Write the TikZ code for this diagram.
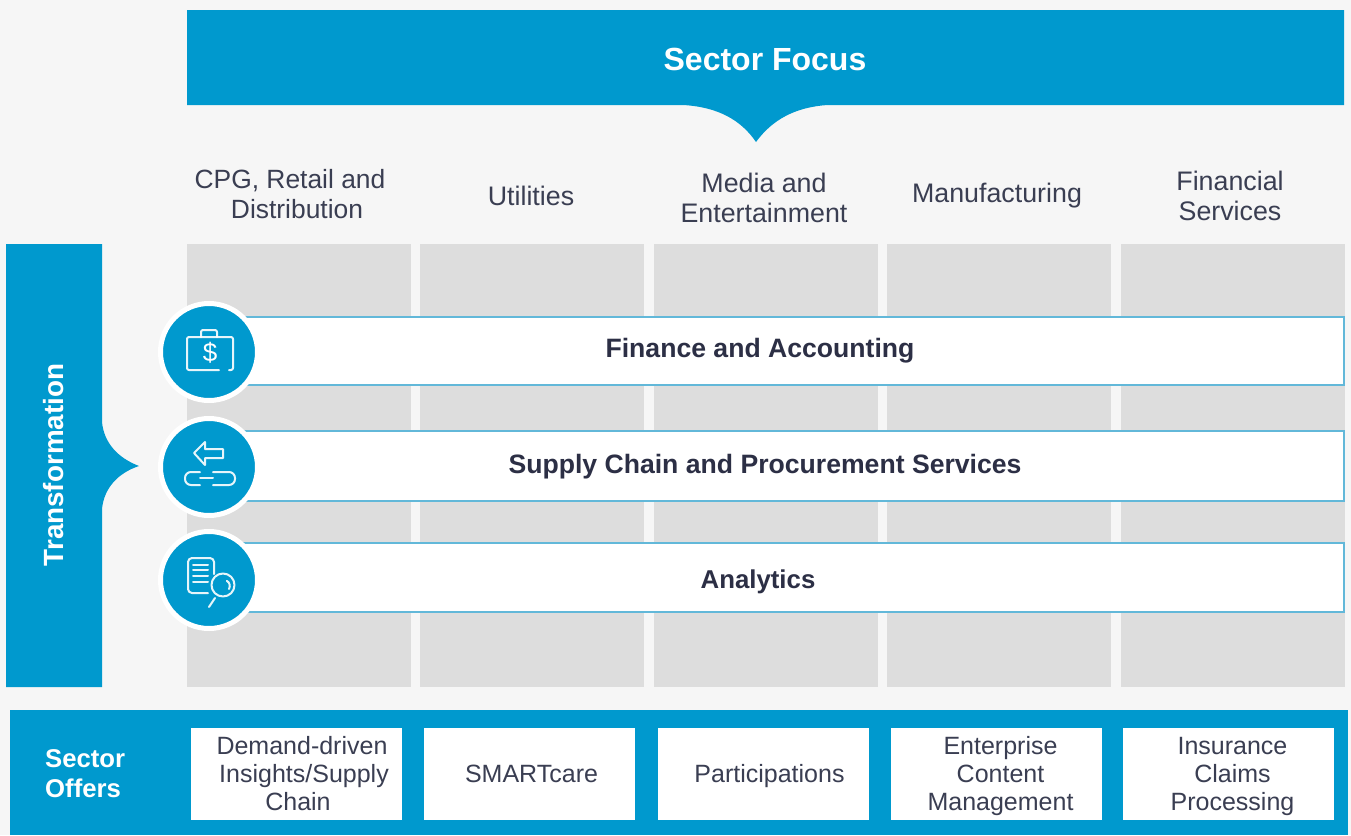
\documentclass[tikz,border=0pt]{standalone}
\usepackage{fontspec}
\setmainfont{Liberation Sans}
\definecolor{bgrey}{HTML}{F6F6F6}
\definecolor{bblue}{HTML}{0099CE}
\definecolor{cgrey}{HTML}{DDDDDD}
\definecolor{ldark}{HTML}{3A3E52}
\definecolor{tdark}{HTML}{2C2F45}
\definecolor{lblue}{HTML}{62B8D9}
\tikzset{
  secthead/.style={align=center, text=ldark, font=\fontsize{26.8}{30}\selectfont},
  offertext/.style={align=center, text=ldark, font=\fontsize{25}{28}\selectfont},
  barhead/.style={text=tdark, font=\bfseries\fontsize{26.6}{30}\selectfont},
  whitehead/.style={text=white, align=center, font=\bfseries},
  iconline/.style={draw=white, line width=2pt, line join=round, line cap=round, opacity=0.9}
}
\begin{document}
\begin{tikzpicture}[x=1pt, y=-1pt]

  \fill [bgrey] (0,0) rectangle (1351,835);
  \useasboundingbox (0,0) rectangle (1351,835);

  % top banner and left banner
  \fill [bblue] (187,10) -- (1344,10) -- (1344,105) -- (828,105)
    .. controls (795,107) and (772,120) .. (756,142)
    .. controls (741,120) and (718,107) .. (683,105) -- (187,105) -- cycle;
  \fill [bblue] (6,244) -- (102,244) -- (102,422)
    .. controls (104,443) and (118,458) .. (139,466)
    .. controls (118,473) and (104,488) .. (102,509) -- (102,687) -- (6,687) -- cycle;

  \draw (765,59) node[name=focus, whitehead, font=\bfseries\fontsize{32}{36}\selectfont] {Sector Focus};
  \draw (54,465) node[name=transf, whitehead, rotate=90, font=\bfseries\fontsize{27.8}{32}\selectfont] {Transformation};

  % sector columns
  \foreach \cx in {187,420,654,887,1121} {
    \fill [cgrey] (\cx,244) rectangle ++(224,443);
  }

  \draw (290,194) node[name=s1, secthead, font=\fontsize{26.4}{30}\selectfont] {CPG, Retail and\\\hspace*{14pt}Distribution};
  \draw (531,196) node[name=s2, secthead] {Utilities};
  \draw (764,198) node[name=s3, secthead] {Media and\\Entertainment};
  \draw (997,196) node[name=s4, secthead] {Manufacturing};
  \draw (1230,196) node[name=s5, secthead] {Financial\\Services};

  % horizontal bars
  \filldraw [fill=white, draw=lblue, line width=1.4pt] (240,317) rectangle (1344,385);
  \filldraw [fill=white, draw=lblue, line width=1.4pt] (240,431) rectangle (1344,501);
  \filldraw [fill=white, draw=lblue, line width=1.4pt] (240,543) rectangle (1344,612);

  \draw (760,351) node[name=b1, barhead] {Finance and Accounting};
  \draw (765,467) node[name=b2, barhead] {Supply Chain and Procurement Services};
  \draw (758,582) node[name=b3, barhead, font=\bfseries\fontsize{25.8}{30}\selectfont] {Analytics};

  % icon discs
  \filldraw [fill=bblue, draw=white, line width=5pt] (209,352) circle [radius=48.5];
  \filldraw [fill=bblue, draw=white, line width=5pt] (209,467) circle [radius=48.5];
  \filldraw [fill=bblue, draw=white, line width=5pt] (209,580) circle [radius=48.5];

  % case icon
  \draw [iconline, rounded corners=2pt] (219,370) -- (187,370) -- (187,337) -- (233,337) -- (233,370) -- (229,370);
  \draw [iconline, rounded corners=2pt] (201,337) -- (201,330) -- (217,330) -- (217,337);
  \draw (210,353) node[name=dollar, text=white, font=\fontsize{26}{28}\selectfont] {\$};

  % arrow and chain icon
  \draw [iconline] (194,453) -- (205,442) -- (205,449) -- (223,449) -- (223,458) -- (205,458) -- (205,465) -- cycle;
  \draw [iconline, rounded corners=6pt] (200,472) -- (185,472) -- (185,485) -- (200,485);
  \draw [iconline, rounded corners=6pt] (213,472) -- (235,472) -- (235,485) -- (213,485);
  \draw [iconline] (200,478) -- (213,478);

  % report and lens icon
  \draw [iconline, rounded corners=4pt] (208,593) -- (188,593) -- (188,558) -- (214,558) -- (214,574);
  \foreach \ly in {565,570,576} {
    \draw [iconline] (193,\ly) -- (208,\ly);
  }
  \draw [iconline] (193,582) -- (208,582);
  \draw [iconline] (223,585) circle [radius=11.5];
  \draw [iconline] (229,589) arc [start angle=30, end angle=-60, radius=6];
  \draw [iconline] (215,598) -- (209,607);

  % sector offers
  \fill [bblue] (10,710) rectangle (1348,835);
  \draw (45,774) node[name=offers, anchor=west, inner sep=0pt, whitehead, align=left, font=\bfseries\fontsize{25.7}{30}\selectfont] {Sector\\Offers};

  \foreach \cx in {191,424,658,891,1123} {
    \fill [white] (\cx,728) rectangle ++(211,92);
  }

  \draw (302,774) node[name=o1, offertext] {Demand-driven\\\hspace*{4pt}Insights/Supply\\Chain\hspace*{8pt}};
  \draw (531.5,774) node[name=o2, offertext] {SMARTcare};
  \draw (769.5,776) node[name=o3, offertext] {Participations};
  \draw (1000.5,776) node[name=o4, offertext] {Enterprise\\Content\\Management};
  \draw (1232.5,776) node[name=o5, offertext] {Insurance\\Claims\\Processing};

\end{tikzpicture}
\end{document}
